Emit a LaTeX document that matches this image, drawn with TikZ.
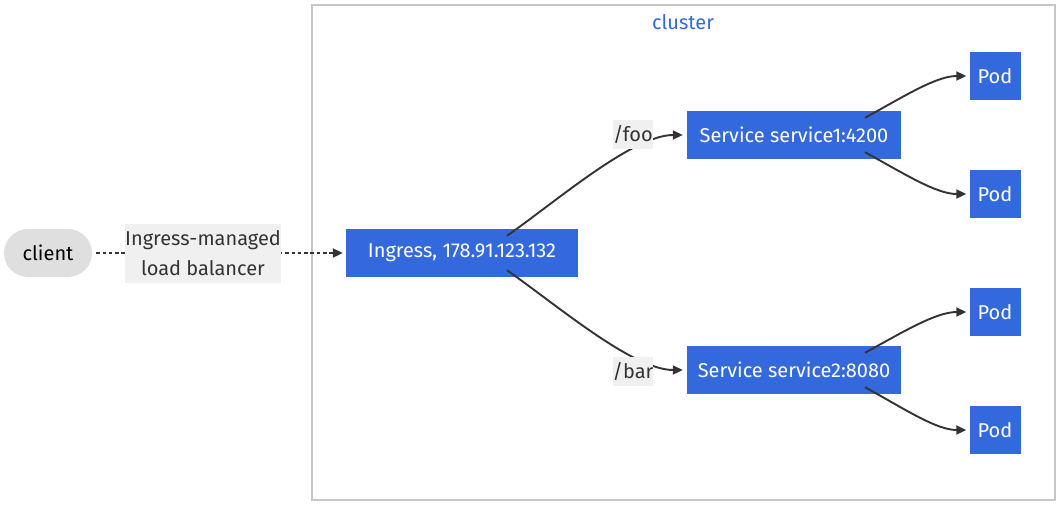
\documentclass[tikz,border=0pt]{standalone}
\usepackage{fontspec}
\setmainfont{Fira Sans}
\usetikzlibrary{arrows.meta}
\definecolor{kblue}{RGB}{52,105,222}
\definecolor{kline}{RGB}{51,51,51}
\begin{document}
\begin{tikzpicture}[x=1pt,y=-1pt,
    box/.style={fill=kblue,text=white,minimum height=48pt,inner sep=0pt,font=\fontsize{20}{24}\selectfont},
    lbl/.style={fill=gray!12,text=kline,inner sep=2pt,font=\fontsize{20}{24}\selectfont},
    link/.style={draw=kline,line width=1.9pt,-{Triangle[length=10pt,width=9pt]}}]
    \useasboundingbox (0,0) rectangle (1062,507);
    \draw [draw=gray!45,line width=1.4pt,fill=white] (312,5) rectangle (1055,500);
    \node (title) [text=kblue,font=\fontsize{20}{24}\selectfont] at (683,22) {cluster};

    \node (client) [fill=gray!25,rounded corners=24pt,minimum width=88pt,minimum height=48pt,font=\fontsize{20}{24}\selectfont] at (48,253) {client};
    \node (ing) [box,minimum width=232pt] at (462,253) {Ingress, 178.91.123.132};
    \node (s1) [box,minimum width=214pt] at (794,135) {Service service1:4200};
    \node (s2) [box,minimum width=214pt] at (794,370) {Service service2:8080};
    \node (p1) [box,minimum width=51pt] at (995,76) {Pod};
    \node (p2) [box,minimum width=51pt] at (995,194) {Pod};
    \node (p3) [box,minimum width=51pt] at (995,312) {Pod};
    \node (p4) [box,minimum width=51pt] at (995,430) {Pod};

    % client to ingress
    \draw [link,line width=2pt,dash pattern=on 3.5pt off 2.8pt] ([xshift=4pt]client.east) -- ([xshift=-3pt]ing.west);
    \node (lb) [lbl,minimum width=156pt,minimum height=59pt,align=center,inner sep=0pt] at (203,253) {Ingress-managed\\[6pt]load balancer};

    % ingress to services
    \draw [link] ([xshift=45pt,yshift=-7pt]ing.north) .. controls +(50,-35) and +(-50,0) .. ([xshift=-4pt]s1.west);
    \draw [link] ([xshift=45pt,yshift=7pt]ing.south) .. controls +(50,35) and +(-50,0) .. ([xshift=-4pt]s2.west);
    \node (foo) [lbl,minimum width=40pt,minimum height=29pt,inner sep=0pt] at (633,134) {/foo};
    \node (bar) [lbl,minimum width=40pt,minimum height=29pt,inner sep=0pt] at (633,371) {/bar};

    % services to pods
    \draw [link] ([xshift=71pt,yshift=-7pt]s1.north) .. controls +(40,-22) and +(-30,0) .. ([xshift=-3pt]p1.west);
    \draw [link] ([xshift=71pt,yshift=7pt]s1.south) .. controls +(40,22) and +(-30,0) .. ([xshift=-3pt]p2.west);
    \draw [link] ([xshift=71pt,yshift=-7pt]s2.north) .. controls +(40,-22) and +(-30,0) .. ([xshift=-3pt]p3.west);
    \draw [link] ([xshift=71pt,yshift=7pt]s2.south) .. controls +(40,22) and +(-30,0) .. ([xshift=-3pt]p4.west);
\end{tikzpicture}
\end{document}
